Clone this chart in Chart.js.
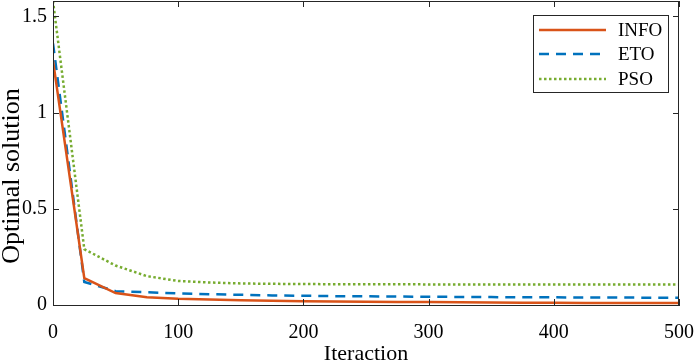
<!DOCTYPE html>
<html>
<head>
<meta charset="utf-8">
<script src="https://cdn.jsdelivr.net/npm/chart.js@4.4.0/dist/chart.umd.min.js"></script>
<style>
  html, body { margin: 0; padding: 0; background: #fff; }
  #wrap { width: 699px; height: 363px; }
</style>
</head>
<body>
<div id="wrap"><canvas id="conv" width="699" height="363"></canvas></div>
<script>
// iterations sampled every 25 steps
var iterations = [0, 25, 50, 75, 100, 125, 150, 175, 200, 225, 250, 275, 300, 325, 350, 375, 400, 425, 450, 475, 500];
var infoValues = [1.27, 0.14, 0.062, 0.040, 0.032, 0.028, 0.025, 0.022, 0.020, 0.018, 0.017, 0.016, 0.015, 0.014, 0.013, 0.012, 0.012, 0.011, 0.011, 0.010, 0.010];
var etoValues  = [1.36, 0.12, 0.072, 0.066, 0.060, 0.056, 0.053, 0.050, 0.048, 0.046, 0.045, 0.044, 0.043, 0.042, 0.041, 0.040, 0.040, 0.039, 0.039, 0.038, 0.038];
var psoValues  = [1.58, 0.29, 0.205, 0.150, 0.125, 0.117, 0.112, 0.110, 0.109, 0.108, 0.108, 0.108, 0.107, 0.107, 0.107, 0.107, 0.107, 0.107, 0.107, 0.107, 0.107];
var seriesNames = ['INFO', 'ETO', 'PSO'];
var yTicks = [0, 0.5, 1, 1.5];
var xTicks = [0, 100, 200, 300, 400, 500];
var yTitle = 'Optimal solution';

function toPoints(vals) {
  return iterations.map(function(it, i) { return {x: it, y: vals[i]}; });
}

var serif = "'Liberation Serif', 'Times New Roman', serif";
var axisColor = '#262626';

// box, inward tick marks, y title and the boxed legend, MATLAB style
var matlabFrame = {
  id: 'matlabFrame',
  afterDraw: function(chart) {
    var ctx = chart.ctx, a = chart.chartArea;
    var xs = chart.scales.x, ys = chart.scales.y;
    ctx.save();
    ctx.strokeStyle = axisColor;
    ctx.lineWidth = 1;
    ctx.strokeRect(a.left + 0.5, a.top + 0.5, a.right - a.left - 1, a.bottom - a.top);
    ctx.beginPath();
    xTicks.forEach(function(v) {
      var px = Math.round(xs.getPixelForValue(v)) + 0.5;
      ctx.moveTo(px, a.bottom); ctx.lineTo(px, a.bottom - 6);
      ctx.moveTo(px, a.top); ctx.lineTo(px, a.top + 6);
    });
    yTicks.forEach(function(v) {
      var py = Math.round(ys.getPixelForValue(v)) + 0.5;
      ctx.moveTo(a.left, py); ctx.lineTo(a.left + 6, py);
      ctx.moveTo(a.right, py); ctx.lineTo(a.right - 6, py);
    });
    ctx.stroke();

    // y axis title (sits a bit below the axis centre in the original)
    ctx.save();
    ctx.translate(12, 176);
    ctx.rotate(-Math.PI / 2);
    ctx.fillStyle = '#000';
    ctx.font = '26px ' + serif;
    ctx.textAlign = 'center';
    ctx.textBaseline = 'middle';
    ctx.fillText(yTitle, 0, 0);
    ctx.restore();

    // legend
    var bx = 533.5, by = 15.5, bw = 135, bh = 77;
    ctx.fillStyle = '#fff';
    ctx.fillRect(bx, by, bw, bh);
    ctx.strokeRect(bx, by, bw, bh);
    var rows = [30, 54, 79];
    chart.data.datasets.forEach(function(ds, i) {
      ctx.save();
      ctx.strokeStyle = ds.borderColor;
      ctx.lineWidth = ds.borderWidth;
      ctx.setLineDash(ds.borderDash || []);
      ctx.beginPath();
      ctx.moveTo(539, rows[i]); ctx.lineTo(606, rows[i]);
      ctx.stroke();
      ctx.restore();
      ctx.fillStyle = '#000';
      ctx.font = '19px ' + serif;
      ctx.textBaseline = 'middle';
      ctx.textAlign = 'left';
      ctx.fillText(ds.label, 618, rows[i] + 1);
    });
    ctx.restore();
  }
};

var chart = new Chart('conv', {
  type: 'line',
  data: {
    datasets: [
      {
        label: seriesNames[0],
        data: toPoints(infoValues),
        borderColor: '#D95319',
        borderWidth: 2.5,
        pointRadius: 0,
        fill: false
      },
      {
        label: seriesNames[1],
        data: toPoints(etoValues),
        borderColor: '#0072BD',
        borderWidth: 2.5,
        borderDash: [10, 7],
        pointRadius: 0,
        fill: false
      },
      {
        label: seriesNames[2],
        data: toPoints(psoValues),
        borderColor: '#77AC30',
        borderWidth: 2.5,
        borderDash: [2.5, 2.5],
        pointRadius: 0,
        fill: false
      }
    ]
  },
  options: {
    responsive: false,
    animation: false,
    layout: { padding: { top: 1, right: 20, left: 0, bottom: 0 } },
    plugins: { legend: { display: false }, tooltip: { enabled: false } },
    scales: {
      x: {
        type: 'linear',
        min: 0,
        max: 500,
        afterBuildTicks: function(s) { s.ticks = xTicks.map(function(v) { return {value: v}; }); },
        afterFit: function(s) { s.height = 58; s.paddingLeft = 0; s.paddingRight = 0; },
        grid: { drawOnChartArea: false, drawTicks: false },
        border: { color: axisColor },
        ticks: { color: '#000', padding: 16, maxRotation: 0, font: { family: serif, size: 20 } },
        title: { display: true, text: 'Iteraction', color: '#000', padding: 0, font: { family: serif, size: 22, lineHeight: 0.82 } }
      },
      y: {
        min: 0,
        max: 1.58,
        afterBuildTicks: function(s) { s.ticks = yTicks.map(function(v) { return {value: v}; }); },
        afterFit: function(s) { s.width = 53; s.paddingTop = 0; s.paddingBottom = 0; },
        grid: { drawOnChartArea: false, drawTicks: false },
        border: { color: axisColor },
        ticks: { color: '#000', padding: 6, font: { family: serif, size: 20 },
          callback: function(v) { return String(v); } },
        title: { display: false }
      }
    }
  },
  plugins: [matlabFrame]
});
</script>
</body>
</html>
